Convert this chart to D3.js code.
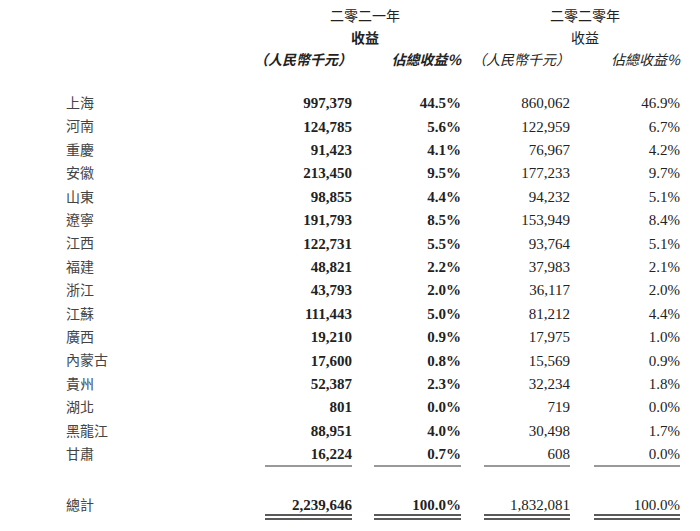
<!DOCTYPE html><html><head><meta charset="utf-8"><script src="https://cdn.jsdelivr.net/npm/d3@7"></script>
<style>body{margin:0;background:#fff}</style></head><body><svg id="c" width="700" height="531"></svg>
<script>
const regions=["上海","河南","重慶","安徽","山東","遼寧","江西","福建","浙江","江蘇","廣西","內蒙古","貴州","湖北","黑龍江","甘肅"];
const rev2021=["997,379","124,785","91,423","213,450","98,855","191,793","122,731","48,821","43,793","111,443","19,210","17,600","52,387","801","88,951","16,224"];
const pct2021=["44.5%","5.6%","4.1%","9.5%","4.4%","8.5%","5.5%","2.2%","2.0%","5.0%","0.9%","0.8%","2.3%","0.0%","4.0%","0.7%"];
const rev2020=["860,062","122,959","76,967","177,233","94,232","153,949","93,764","37,983","36,117","81,212","17,975","15,569","32,234","719","30,498","608"];
const pct2020=["46.9%","6.7%","4.2%","9.7%","5.1%","8.4%","5.1%","2.1%","2.0%","4.4%","1.0%","0.9%","1.8%","0.0%","1.7%","0.0%"];
const totals=["2,239,646","100.0%","1,832,081","100.0%"];
const svg=d3.select("#c");
const cjk="'Noto Sans CJK TC',sans-serif", serif="'Liberation Serif',serif";
const y=d3.scalePoint().domain(regions).range([103,454]);
const colR=[352,461,570,680], colL=[265,374,484,594];
const cols=[rev2021,pct2021,rev2020,pct2020];
const bold=[true,true,false,false];
const g=svg.append("g").attr("font-size",15).attr("fill","#222");
g.selectAll(".r").data(regions).join("text").attr("x",66).attr("y",d=>y(d)).attr("dy","0.35em").attr("font-family",cjk).attr("font-size",14).attr("fill","#444").text(d=>d);
cols.forEach((c,i)=>{
 g.selectAll(".c"+i).data(c).join("text").attr("x",colR[i]).attr("y",(d,j)=>y(regions[j])).attr("dy","0.35em").attr("text-anchor","end").attr("font-family",serif).attr("font-weight",bold[i]?"bold":"normal").text(d=>d);
 g.append("line").attr("x1",colL[i]).attr("x2",colR[i]).attr("y1",466).attr("y2",466).attr("stroke","#333");
 g.append("text").attr("x",colR[i]).attr("y",505).attr("dy","0.35em").attr("text-anchor","end").attr("font-family",serif).attr("font-weight",bold[i]?"bold":"normal").text(totals[i]);
 [515,519].forEach(v=>g.append("line").attr("x1",colL[i]).attr("x2",colR[i]).attr("y1",v).attr("y2",v).attr("stroke","#222").attr("stroke-width",1.5));
});
g.append("text").attr("x",66).attr("y",505).attr("dy","0.35em").attr("font-family",cjk).attr("font-size",14).attr("fill","#444").text("總計");
const hdr=[[365,16,"二零二一年",false],[365,38,"收益",true],[585,16,"二零二零年",false],[585,38,"收益",false]];
hdr.forEach(h=>g.append("text").attr("x",h[0]).attr("y",h[1]).attr("dy","0.35em").attr("text-anchor","middle").attr("font-family",cjk).attr("font-weight",h[3]?"bold":"normal").attr("font-size",14).text(h[2]));
const sub=["（人民幣千元）","佔總收益%","（人民幣千元）","佔總收益%"];
sub.forEach((s,i)=>g.append("text").attr("x",colR[i]).attr("y",60).attr("dy","0.35em").attr("text-anchor","end").attr("font-family",cjk).attr("font-style","italic").attr("font-weight",bold[i]?"bold":"normal").attr("font-size",14).text(s));
</script></body></html>
